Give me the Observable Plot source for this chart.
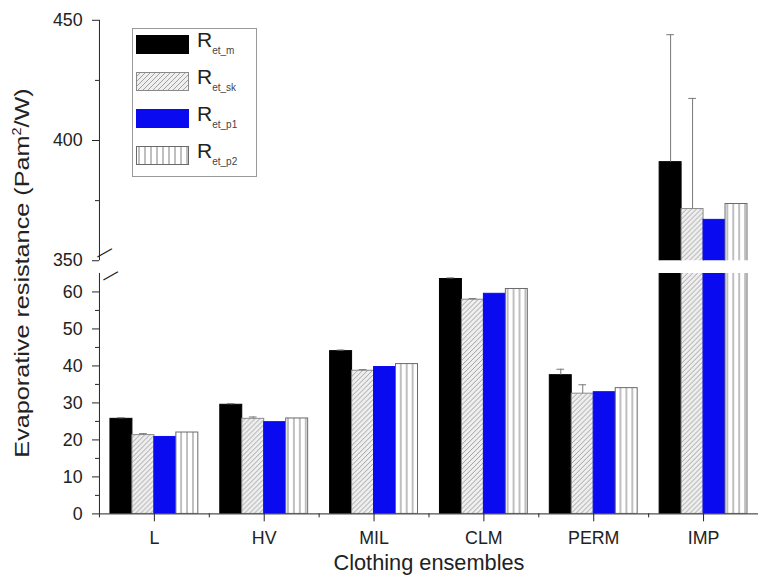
<!DOCTYPE html>
<html>
<head>
<meta charset="utf-8">
<script src="https://cdn.jsdelivr.net/npm/d3@7"></script>
<script src="https://cdn.jsdelivr.net/npm/@observablehq/plot@0.6"></script>
<style>
  html, body { margin: 0; padding: 0; background: #fff; overflow: hidden; }
  #wrap { position: relative; width: 758px; height: 587px; overflow: hidden; font-family: "Liberation Sans", Arial, sans-serif; color: #222; }
  #upper, #lower { position: absolute; left: 0; }
  #upper { top: 0; z-index: 1; }
  #lower { top: 268px; }
  #upper svg, #lower svg { overflow: visible; }
  #ytitle { position: absolute; left: 22px; top: 273px; white-space: nowrap; font-size: 21px;
            transform: translate(-50%, -50%) rotate(-90deg) scaleX(1.2); color: #222; }
  #ytitle sup { font-size: 12px; }
  #legend { position: absolute; left: 132px; top: 28px; width: 125px; height: 149px; border: 1px solid #999; background: #fff; box-sizing: border-box; z-index: 2; }
  .row { position: absolute; left: 3px; height: 20px; display: flex; align-items: center; }
  .row svg { display: block; }
  .lab { margin-left: 7px; font-size: 21px; line-height: 20px; color: #222; }
  .lab sub { font-size: 10px; vertical-align: -7px; color: #444; }
</style>
</head>
<body>
<svg width="0" height="0" style="position:absolute">
  <defs>
    <pattern id="hatch" patternUnits="userSpaceOnUse" width="5" height="5">
      <rect width="5" height="5" fill="#efefef"></rect>
      <path d="M-1,1 l2,-2 M0,5 l5,-5 M4,6 l2,-2" stroke="#8c8c8c" stroke-width="0.8"></path>
    </pattern>
    <pattern id="vstripe" patternUnits="userSpaceOnUse" width="6" height="10">
      <rect width="6" height="10" fill="#ffffff"></rect>
      <line x1="3" y1="0" x2="3" y2="10" stroke="#808080" stroke-width="1"></line>
    </pattern>
  </defs>
</svg>
<div id="wrap">
  <div id="lower"></div>
  <div id="upper"></div>
  <div id="ytitle">Evaporative resistance (Pam<sup>2</sup>/W)</div>
  <div id="legend"></div>
</div>
<script>
// ---- data ----
const categories = ["L", "HV", "MIL", "CLM", "PERM", "IMP"];
const seriesKeys = ["m", "sk", "p1", "p2"];
const seriesLabels = ["et_m", "et_sk", "et_p1", "et_p2"];
const rMeasured = [25.7, 29.5, 44.0, 63.5, 37.5, 391];
const rSkin     = [21.3, 25.7, 38.7, 57.9, 32.5, 371.5];
const rP1       = [20.8, 24.8, 39.7, 59.5, 32.9, 367];
const rP2       = [22.0, 25.8, 40.5, 60.8, 34.0, 373.6];
const errMeasured = [0.3, 0.3, 0.3, 0.3, 1.6, 53];
const errSkin     = [0.4, 0.5, 0.3, 0.3, 2.4, 46];
const lowerTicks = [0, 10, 20, 30, 40, 50, 60];
const lowerMinor = [5, 15, 25, 35, 45, 55];
const upperTicks = [350, 400, 450];
const upperMinor = [375, 425];
const xTitle = "Clothing ensembles";

// ---- styles ----
const fills   = {m: "#000000", sk: "url(#hatch)", p1: "#0a0af0", p2: "url(#vstripe)"};
const strokes = {m: "#000000", sk: "#8a8a8a", p1: "#0a0af0", p2: "#6a6a6a"};

const allValues = [rMeasured, rSkin, rP1, rP2];
const allErr = [errMeasured, errSkin, null, null];
const rows = [];
categories.forEach((c, i) => {
  seriesKeys.forEach((s, j) => {
    const x1 = i - 0.4 + 0.2 * j;
    rows.push({cat: c, series: s, x1, x2: x1 + 0.2, xc: x1 + 0.1,
               value: allValues[j][i], err: allErr[j] ? allErr[j][i] : 0});
  });
});
const errRows = rows.filter(d => d.err > 0);
const xDomain = [-0.5, categories.length - 0.5];
const W = 766;
const font = {fontFamily: "Liberation Sans, Arial, sans-serif", fontSize: "18px", color: "#222", background: "transparent", overflow: "visible"};

function barMarks() {
  return seriesKeys.map(s => Plot.rectY(rows.filter(d => d.series === s), {
    x1: "x1", x2: "x2", y1: 0, y2: "value",
    fill: fills[s], stroke: strokes[s], strokeWidth: 1, clip: true
  }));
}
function errMarks() {
  return [
    Plot.ruleX(errRows, {x: "xc", y1: "value", y2: d => d.value + d.err, stroke: "#777", strokeWidth: 1, clip: true}),
    Plot.ruleY(errRows, {y: d => d.value + d.err, x1: d => d.xc - 0.035, x2: d => d.xc + 0.035, stroke: "#777", strokeWidth: 1, clip: true})
  ];
}

const upper = Plot.plot({
  width: W, height: 268, marginLeft: 100, marginRight: 0, marginTop: 20, marginBottom: 5,
  style: font,
  x: {type: "linear", domain: xDomain, axis: null},
  y: {domain: [350, 450], axis: null},
  marks: [
    ...barMarks(),
    ...errMarks(),
    Plot.ruleX([xDomain[0]], {stroke: "#222", strokeWidth: 1}),
    Plot.axisY({ticks: upperTicks, tickSize: 7, tickPadding: 10, label: null}),
    Plot.axisY({ticks: upperMinor, tickSize: 4, tickFormat: () => "", label: null}),
    Plot.text(["\u2014"], {frameAnchor: "bottom-left", rotate: -30, fontSize: 17, fill: "#222"})
  ]
});
document.getElementById("upper").appendChild(upper);

const lower = Plot.plot({
  width: W, height: 319, marginLeft: 100, marginRight: 0, marginTop: 5, marginBottom: 71,
  style: font,
  x: {type: "linear", domain: xDomain},
  y: {domain: [0, 65]},
  marks: [
    ...barMarks(),
    ...errMarks(),
    Plot.ruleX([xDomain[0]], {stroke: "#222", strokeWidth: 1}),
    Plot.ruleY([0], {stroke: "#222", strokeWidth: 1}),
    Plot.axisY({ticks: lowerTicks, tickSize: 7, tickPadding: 10, label: null}),
    Plot.axisY({ticks: lowerMinor, tickSize: 4, tickFormat: () => "", label: null}),
    Plot.axisX({ticks: d3.range(categories.length), tickFormat: i => categories[i], tickSize: 8, tickPadding: 10, label: null}),
    Plot.axisX({ticks: d3.range(categories.length + 1).map(i => i - 0.5), tickSize: 4, tickFormat: () => "", label: null}),
    Plot.text([xTitle], {frameAnchor: "bottom", dy: 57, fontSize: 22, fill: "#222"}),
    Plot.text(["\u2014"], {frameAnchor: "top-left", rotate: -30, fontSize: 17, fill: "#222"})
  ]
});
document.getElementById("lower").appendChild(lower);

// legend
const legend = document.getElementById("legend");
seriesKeys.forEach((s, j) => {
  const row = document.createElement("div");
  row.className = "row";
  row.style.top = (6 + j * 37) + "px";
  row.innerHTML = `<svg width="54" height="20"><rect x="0.5" y="0.5" width="52" height="18" fill="${fills[s]}" stroke="${strokes[s]}"></rect></svg>` +
    `<span class="lab">R<sub>${seriesLabels[j]}</sub></span>`;
  legend.appendChild(row);
});
</script>
</body>
</html>
